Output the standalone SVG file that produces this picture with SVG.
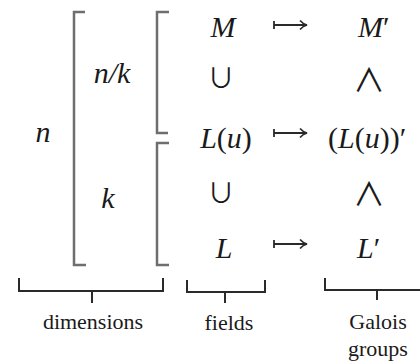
<svg xmlns="http://www.w3.org/2000/svg" width="420" height="362" viewBox="0 0 420 362">
<defs>
<style>
.bk{fill:none;stroke:#6e6e6e;stroke-width:2.5}
.br{fill:none;stroke:#2a2a2a;stroke-width:2}
.ar{fill:none;stroke:#2a2a2a;stroke-width:1.8}
</style>
<marker id="ah" viewBox="0 0 10 10" refX="9" refY="5" markerWidth="10" markerHeight="10" markerUnits="userSpaceOnUse" orient="auto">
<path d="M2,0.5 Q5,4 9,5 Q5,6 2,9.5" fill="none" stroke="#2a2a2a" stroke-width="1.6"/>
</marker>
</defs>
<rect width="420" height="362" fill="#ffffff"/>
<g id="dims" fill="#1a1a1a">
<text x="43" y="142" font-family="Liberation Serif" font-size="30" font-style="italic" text-anchor="middle">n</text>
<text x="112" y="83" font-family="Liberation Serif" font-size="30" font-style="italic" text-anchor="middle">n/k</text>
<text x="108" y="208" font-family="Liberation Serif" font-size="30" font-style="italic" text-anchor="middle">k</text>
<path class="bk" d="M85,12 H74 V265 H86"/>
<path class="bk" d="M169,12 H157 V133 H168"/>
<path class="bk" d="M169,143 H157 V265 H169"/>
</g>
<g id="fields" fill="#1a1a1a">
<text x="223" y="37" font-family="Liberation Serif" font-size="30" font-style="italic" text-anchor="middle">M</text>
<text x="221" y="88" font-family="Noto Sans CJK JP" font-size="27" text-anchor="middle">∪</text>
<text x="226" y="148" font-family="Liberation Serif" font-size="30" text-anchor="middle"><tspan font-style="italic">L</tspan>(<tspan font-style="italic">u</tspan>)</text>
<text x="221" y="203" font-family="Noto Sans CJK JP" font-size="27" text-anchor="middle">∪</text>
<text x="224" y="258" font-family="Liberation Serif" font-size="30" font-style="italic" text-anchor="middle">L</text>
</g>
<g id="groups" fill="#1a1a1a">
<text x="358" y="37" font-family="Liberation Serif" font-size="30"><tspan font-style="italic">M</tspan>′</text>
<text x="369" y="92" font-family="Noto Sans CJK JP" font-size="32" text-anchor="middle">∧</text>
<text x="328" y="148" font-family="Liberation Serif" font-size="30">(<tspan font-style="italic">L</tspan>(<tspan font-style="italic">u</tspan>))′</text>
<text x="369" y="206" font-family="Noto Sans CJK JP" font-size="32" text-anchor="middle">∧</text>
<text x="357" y="258" font-family="Liberation Serif" font-size="30"><tspan font-style="italic">L</tspan>′</text>
</g>
<g id="connectors">
<path class="ar" d="M274,25 H307" marker-end="url(#ah)"/>
<path class="ar" d="M274,21 V29"/>
<path class="ar" d="M274,133 H307" marker-end="url(#ah)"/>
<path class="ar" d="M274,129 V137"/>
<path class="ar" d="M274,244 H307" marker-end="url(#ah)"/>
<path class="ar" d="M274,240 V248"/>
</g>
<g id="braces" fill="#1a1a1a">
<path class="br" d="M19,278 V291 H163 V278 M92,291 V303"/>
<path class="br" d="M187,280 V292 H265 V280 M225,292 V303"/>
<path class="br" d="M325,278 V290 H429 V278 M377,290 V300"/>
<text x="93" y="329" font-family="Liberation Serif" font-size="22" text-anchor="middle">dimensions</text>
<text x="229" y="330" font-family="Liberation Serif" font-size="22" text-anchor="middle">fields</text>
<text x="378" y="329" font-family="Liberation Serif" font-size="22" text-anchor="middle">Galois</text>
<text x="378" y="356" font-family="Liberation Serif" font-size="22" text-anchor="middle">groups</text>
</g>
</svg>
